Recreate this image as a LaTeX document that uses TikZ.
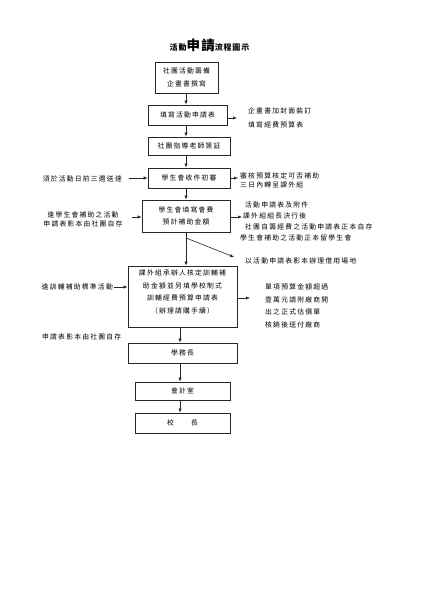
\documentclass[tikz,border=0pt]{standalone}
\usepackage{fontspec}
\usetikzlibrary{arrows.meta}
\newfontfamily\cjk[LetterSpace=18]{Noto Sans CJK TC}
\newfontfamily\cjkt[LetterSpace=10]{Noto Sans CJK TC}
\begin{document}
\begin{tikzpicture}[x=1pt,y=-1pt,
  box/.style={draw=black!85, line width=0.7pt, inner sep=0pt, align=center,
    font=\cjk\fontsize{6.8}{12.5}\selectfont},
  lbl/.style={inner sep=0pt, font=\cjk\fontsize{6.8}{9.5}\selectfont},
  arr/.style={-{Latex[length=4pt,width=3.2pt]}, line width=0.6pt, draw=black!85}]
\fill[white] (0,0) rectangle (420,593);
\useasboundingbox (0,0) rectangle (420,593);

% title
\node[inner sep=0pt] (title) at (209.5,45)
  {\cjkt\bfseries\fontsize{8}{8}\selectfont 活動{\fontsize{13.5}{14}\selectfont 申請}流程圖示};

% boxes
\node[box, minimum width=63pt, minimum height=31pt] (b1) at (186.5,77.5) {社團活動籌備\\企畫書撰寫};
\node[box, minimum width=79pt, minimum height=20pt] (b2) at (187.5,115) {填寫活動申請表};
\node[box, minimum width=82pt, minimum height=18pt] (b3) at (189,146) {社團指導老師簽証};
\node[box, minimum width=82pt, minimum height=20pt] (b4) at (189,178) {學生會收件初審};
\node[box, minimum width=88pt, minimum height=32pt] (b5) at (186,216) {學生會填寫會費\\預計補助金額};
\node[box, minimum width=109pt, minimum height=61pt] (b6) at (182.5,296.5)
  {課外組承辦人核定訓輔補\\助金額並另填學校制式\\訓輔經費預算申請表\\（辦理請購手續）\\[-3pt]};
\node[box, minimum width=109pt, minimum height=20pt] (b7) at (182.5,353) {學務長};
\node[box, minimum width=95pt, minimum height=18pt] (b8) at (182.5,391) {會計室};
\node[box, minimum width=95pt, minimum height=20pt] (b9) at (182.5,423) {校　　長};

% helper coordinates
\coordinate (vx) at (186,0);
\coordinate (vy) at (180,0);
\coordinate (e2) at (237,118);
\coordinate (e4) at (238,178);
\coordinate (e5) at (242,217);
\coordinate (e6) at (250,298);
\coordinate (s4) at (129,178);
\coordinate (s5) at (132,217);
\coordinate (s6) at (114,287);
\coordinate (dstart) at (186,238);
\coordinate (dend) at (234,257);

% vertical flow
\draw[arr] (b1.south -| vx) -- (b2.north -| vx);
\draw[arr] (b2.south -| vx) -- (b3.north -| vx);
\draw[arr] (b3.south -| vx) -- (b4.north -| vx);
\draw[arr] (b4.south -| vx) -- (b5.north -| vx);
\draw[arr] (b5.south -| vx) -- (b6.north -| vx);
\draw[arr] (b6.south -| vy) -- (b7.north -| vy);
\draw[arr] (b7.south -| vy) -- (b8.north -| vy);
\draw[arr] (b8.south -| vy) -- (b9.north -| vy);

% side arrows
\draw[arr] (b2.east |- e2) -- (e2);
\draw[arr] (b4.east |- e4) -- (e4);
\draw[arr] (b5.east |- e5) -- (e5);
\draw[arr] (b6.east |- e6) -- (e6);
\draw[arr] (s4) -- (b4.west |- s4);
\draw[arr] (s5) -- (b5.west |- s5);
\draw[arr] (s6) -- (b6.west |- s6);
\draw[arr] (dstart) -- (dend);

% right texts
\node[lbl, anchor=west] (r2a) at (248,111) {企畫書加封面裝訂};
\node[lbl, anchor=west] (r2b) at (248,125) {填寫經費預算表};
\node[lbl, anchor=west] (r4a) at (240,175.5) {審核預算核定可否補助};
\node[lbl, anchor=west] (r4b) at (240,185) {三日內轉呈課外組};
\node[lbl, anchor=west] (r5a) at (245,205) {活動申請表及附件};
\node[lbl, anchor=west] (r5b) at (243,216) {課外組組長決行後};
\node[lbl, anchor=west] (r5c) at (245,227) {社團自籌經費之活動申請表正本自存};
\node[lbl, anchor=west] (r5d) at (240,238) {學生會補助之活動正本留學生會};
\node[lbl, anchor=west] (rd) at (245,261) {以活動申請表影本辦理借用場地};
\node[lbl, anchor=west] (r6a) at (265,287) {單項預算金額超過};
\node[lbl, anchor=west] (r6b) at (265,299.5) {壹萬元請附廠商開};
\node[lbl, anchor=west] (r6c) at (265,312) {出之正式估價單};
\node[lbl, anchor=west] (r6d) at (265,324.5) {核銷後逕付廠商};

% left texts
\node[lbl, anchor=east] (l4) at (122,179) {須於活動日前三週送達};
\node[lbl, align=center] (l5) at (83,219.5) {逢學生會補助之活動\\申請表影本由社團自存};
\node[lbl, anchor=east] (l6) at (113,287) {逢訓輔補助標準活動};
\node[lbl, anchor=west] (l7) at (42,337) {申請表影本由社團自存};
\end{tikzpicture}
\end{document}
